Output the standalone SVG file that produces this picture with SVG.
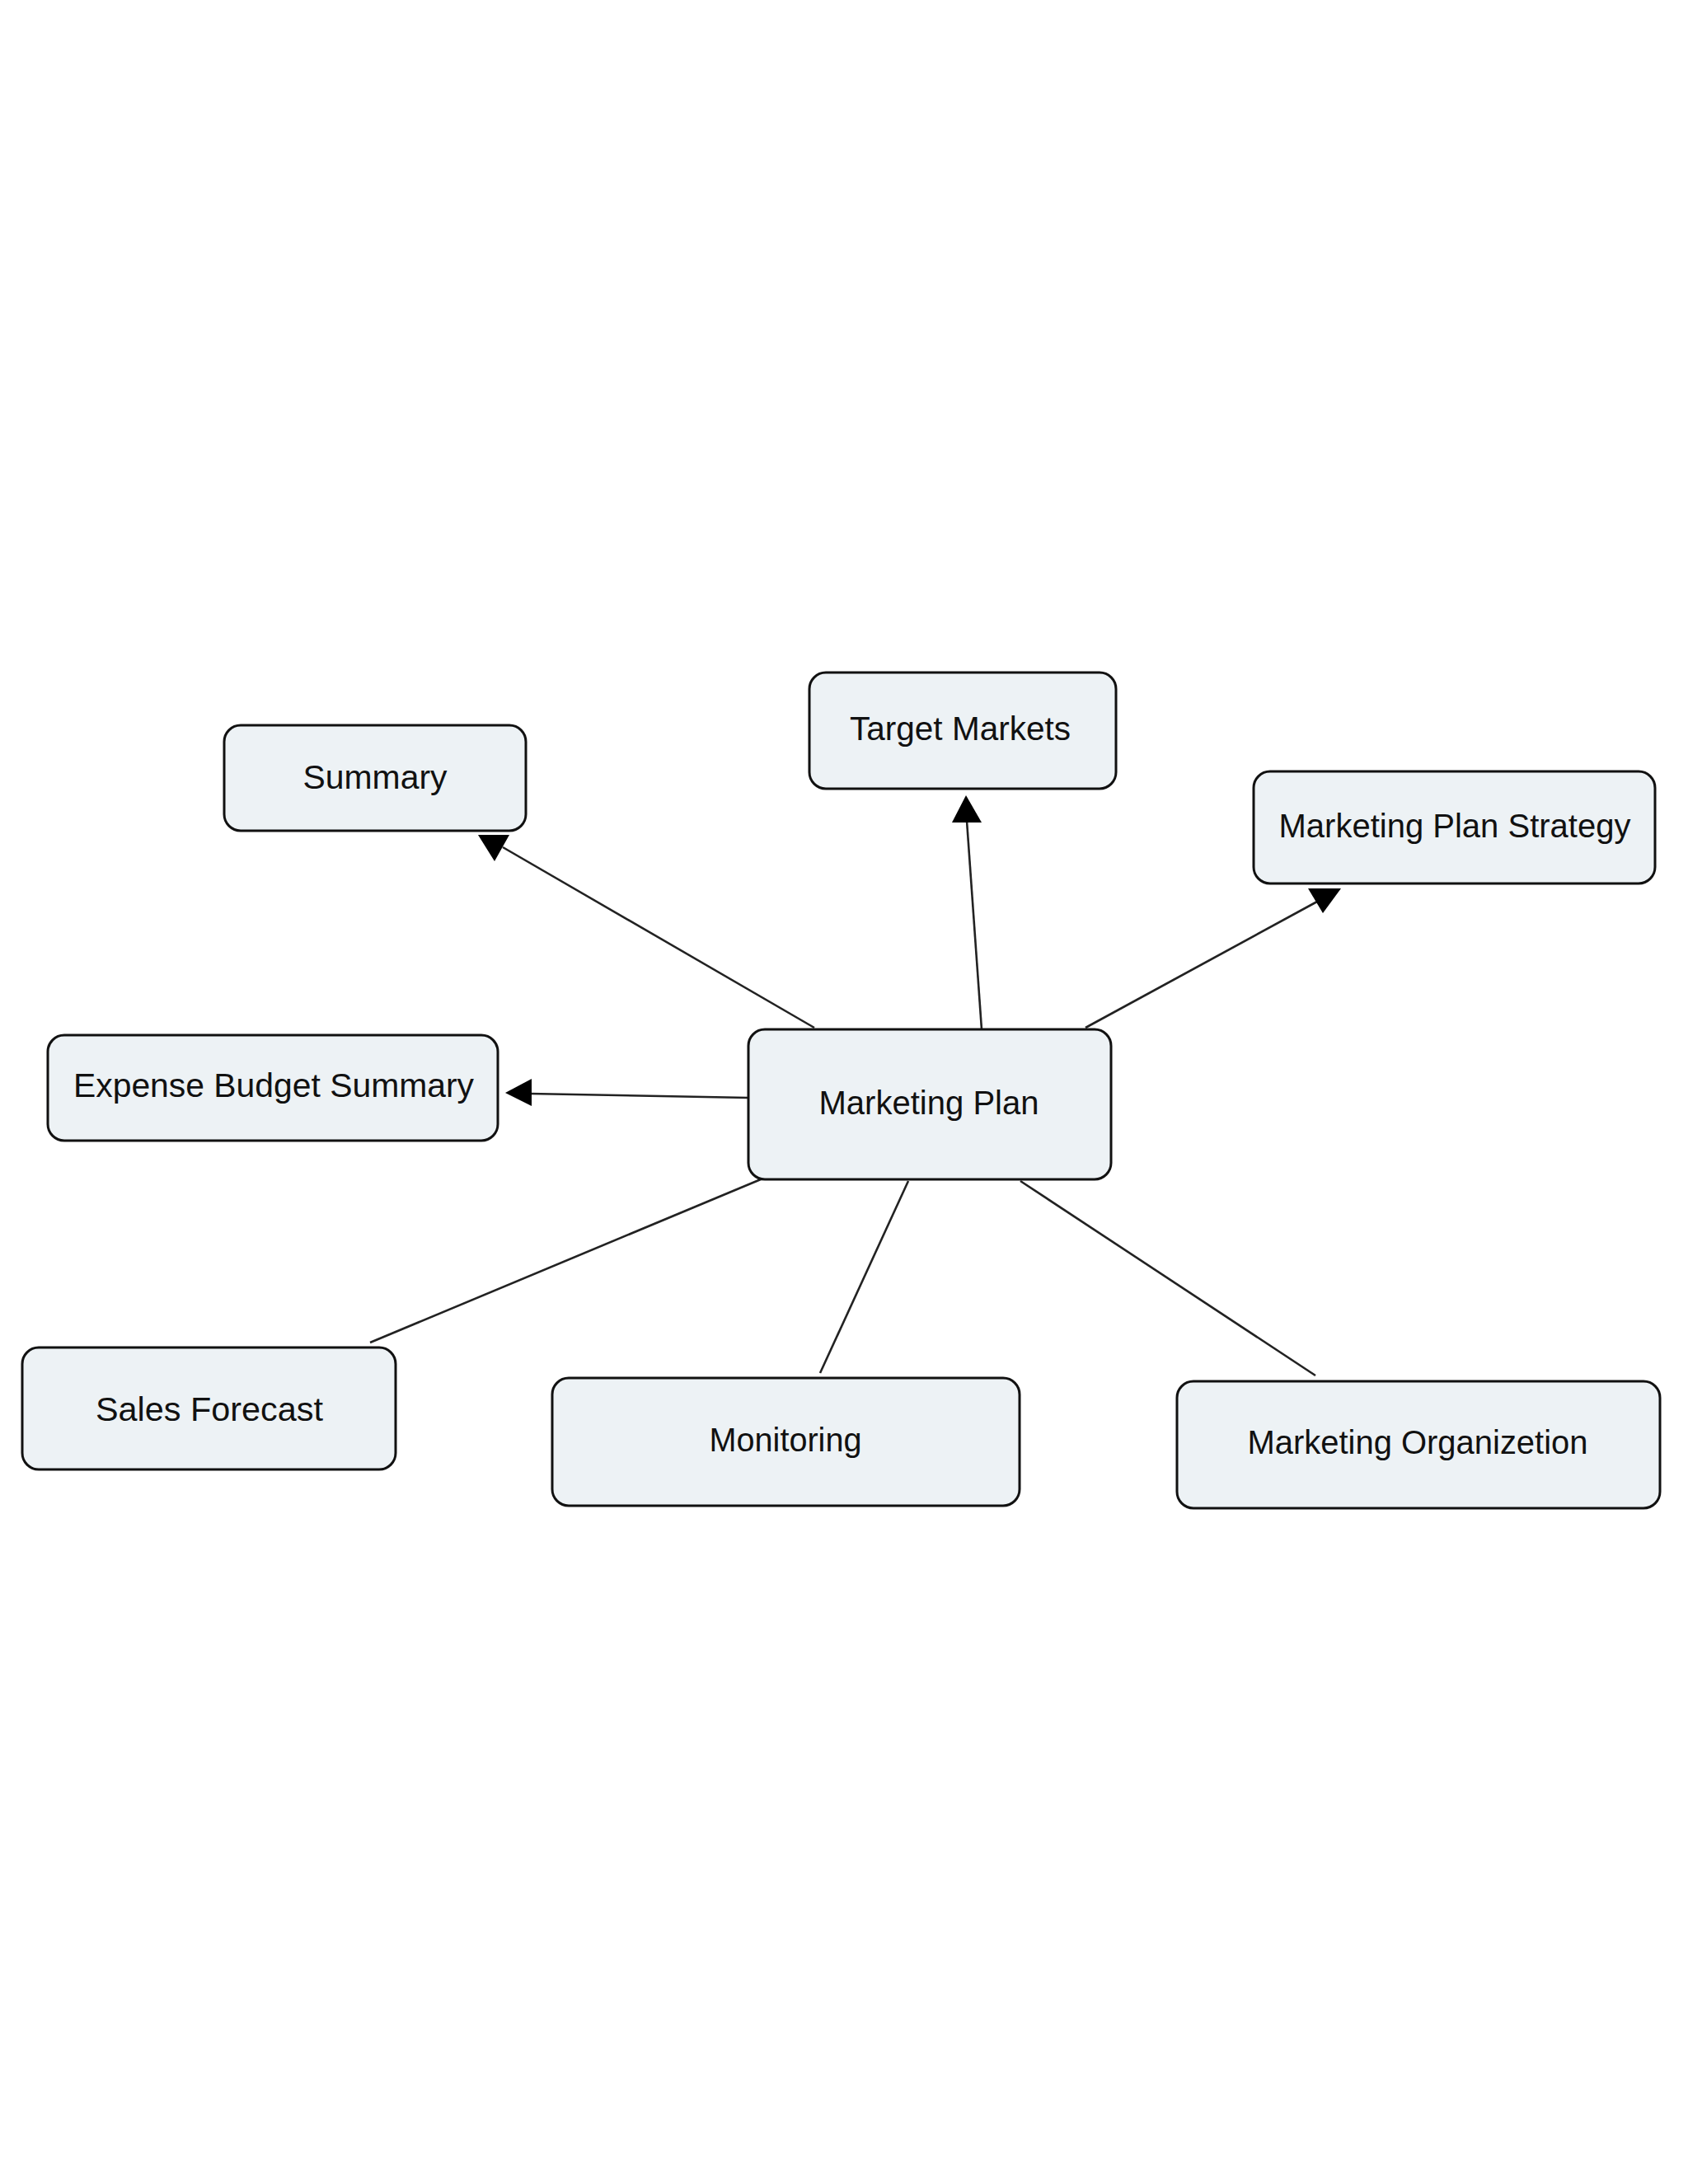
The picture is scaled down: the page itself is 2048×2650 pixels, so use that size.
<svg xmlns="http://www.w3.org/2000/svg" width="2048" height="2650" viewBox="0 0 2048 2650">
<style>
.box{fill:#edf2f5;stroke:#111;stroke-width:3}
.lbl{font-family:"Liberation Sans",Arial,sans-serif;font-size:40px;fill:#111;text-anchor:middle}
.edge{stroke:#222;stroke-width:2.6;fill:none}
.head{fill:#000;stroke:none}
</style>
<rect width="2048" height="2650" fill="#fff"/>
<g id="connectors">
<line class="edge" x1="988" y1="1247" x2="610" y2="1028"/>
<polygon class="head" points="580,1013 618,1013 600,1045"/>
<line class="edge" x1="1191" y1="1249" x2="1173" y2="996"/>
<polygon class="head" points="1172,965 1155,998 1191,998"/>
<line class="edge" x1="1317" y1="1247" x2="1598" y2="1094"/>
<polygon class="head" points="1587,1078 1627,1078 1605,1108"/>
<line class="edge" x1="908" y1="1332" x2="643" y2="1327"/>
<polygon class="head" points="613,1326 645,1309 645,1342"/>
<line class="edge" x1="923" y1="1431" x2="449" y2="1629"/>
<line class="edge" x1="1102" y1="1433" x2="995" y2="1666"/>
<line class="edge" x1="1238" y1="1433" x2="1596" y2="1669"/>
</g>
<g id="node-summary">
<rect class="box" x="272" y="880" width="366" height="128" rx="20"/>
<text class="lbl" x="455" y="957" textLength="175" lengthAdjust="spacingAndGlyphs">Summary</text>
</g>
<g id="node-target-markets">
<rect class="box" x="982" y="816" width="372" height="141" rx="20"/>
<text class="lbl" x="1165" y="898" textLength="268" lengthAdjust="spacingAndGlyphs">Target Markets</text>
</g>
<g id="node-marketing-plan-strategy">
<rect class="box" x="1521" y="936" width="487" height="136" rx="20"/>
<text class="lbl" x="1765" y="1016" textLength="427" lengthAdjust="spacingAndGlyphs">Marketing Plan Strategy</text>
</g>
<g id="node-expense-budget-summary">
<rect class="box" x="58" y="1256" width="546" height="128" rx="20"/>
<text class="lbl" x="332" y="1331" textLength="486" lengthAdjust="spacingAndGlyphs">Expense Budget Summary</text>
</g>
<g id="node-marketing-plan">
<rect class="box" x="908" y="1249" width="440" height="182" rx="20"/>
<text class="lbl" x="1127" y="1352" textLength="267" lengthAdjust="spacingAndGlyphs">Marketing Plan</text>
</g>
<g id="node-sales-forecast">
<rect class="box" x="27" y="1635" width="453" height="148" rx="20"/>
<text class="lbl" x="254" y="1724" textLength="276" lengthAdjust="spacingAndGlyphs">Sales Forecast</text>
</g>
<g id="node-monitoring">
<rect class="box" x="670" y="1672" width="567" height="155" rx="20"/>
<text class="lbl" x="953" y="1761" textLength="185" lengthAdjust="spacingAndGlyphs">Monitoring</text>
</g>
<g id="node-marketing-organizetion">
<rect class="box" x="1428" y="1676" width="586" height="154" rx="20"/>
<text class="lbl" x="1720" y="1764" textLength="413" lengthAdjust="spacingAndGlyphs">Marketing Organizetion</text>
</g>
</svg>
